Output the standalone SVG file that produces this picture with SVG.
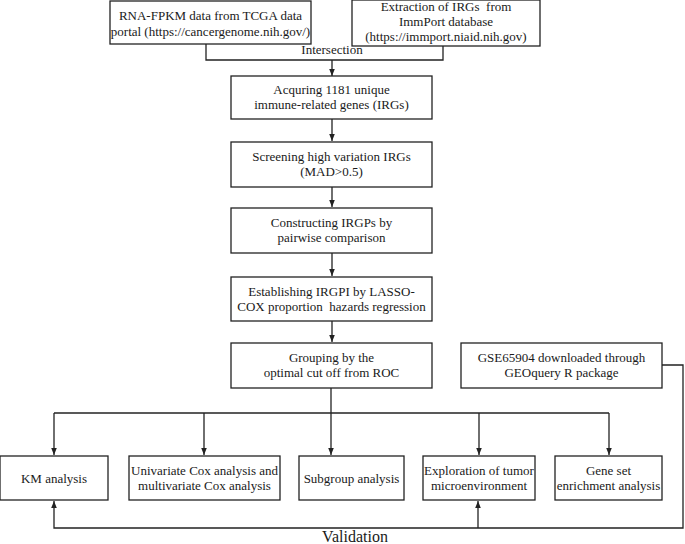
<svg xmlns="http://www.w3.org/2000/svg" width="685" height="544" viewBox="0 0 685 544">
<style>
.box{fill:#fff;stroke:#222;stroke-width:1.3}
.t{font-family:"Liberation Serif","Times New Roman",serif;font-size:13px;fill:#1a1a1a;text-anchor:middle;white-space:pre}
.c{fill:none;stroke:#222;stroke-width:1.3}
</style>
<defs>
<marker id="ah" viewBox="0 0 10 10" refX="10" refY="5" markerWidth="7" markerHeight="7" markerUnits="userSpaceOnUse" orient="auto">
<path d="M0,1 L10,5 L0,9 Z" fill="#222"/>
</marker>
</defs>
<rect width="685" height="544" fill="#fff"/>
<g id="connectors">
<path class="c" d="M206,44 V60 H443 V46"/>
<path class="c" d="M332,60 V76" marker-end="url(#ah)"/>
<path class="c" d="M332,119 V141" marker-end="url(#ah)"/>
<path class="c" d="M332,187 V207" marker-end="url(#ah)"/>
<path class="c" d="M332,253 V276" marker-end="url(#ah)"/>
<path class="c" d="M332,321 V342" marker-end="url(#ah)"/>
<path class="c" d="M331,388 V413"/>
<path class="c" d="M54,413 H609"/>
<path class="c" d="M54,413 V455" marker-end="url(#ah)"/>
<path class="c" d="M204,413 V455" marker-end="url(#ah)"/>
<path class="c" d="M331,413 V455" marker-end="url(#ah)"/>
<path class="c" d="M479,413 V455" marker-end="url(#ah)"/>
<path class="c" d="M609,413 V455" marker-end="url(#ah)"/>
<path class="c" d="M662,365 H683 V528 H54 V501" marker-end="url(#ah)"/>
<path class="c" d="M478,528 V501" marker-end="url(#ah)"/>
<text class="t" x="332" y="54">Intersection</text>
<text class="t" x="355" y="542" style="font-size:16px">Validation</text>
</g>
<g id="n_rna">
<rect class="box" x="110" y="1" width="201" height="43"/>
<text class="t" x="210.5" y="20">RNA-FPKM data from TCGA data</text>
<text class="t" x="210.5" y="36">portal (https://cancergenome.nih.gov/)</text>
</g>
<g id="n_immport">
<rect class="box" x="352" y="0" width="188" height="46"/>
<text class="t" x="446" y="11">Extraction of IRGs  from</text>
<text class="t" x="446" y="26">ImmPort database</text>
<text class="t" x="446" y="41">(https://immport.niaid.nih.gov)</text>
</g>
<g id="n_acq">
<rect class="box" x="231" y="76" width="201" height="43"/>
<text class="t" x="331.5" y="94">Acquring 1181 unique</text>
<text class="t" x="331.5" y="109">immune-related genes (IRGs)</text>
</g>
<g id="n_screen">
<rect class="box" x="231" y="142" width="201" height="45"/>
<text class="t" x="331.5" y="161">Screening high variation IRGs</text>
<text class="t" x="331.5" y="176">(MAD&gt;0.5)</text>
</g>
<g id="n_construct">
<rect class="box" x="231" y="208" width="201" height="45"/>
<text class="t" x="331.5" y="227">Constructing IRGPs by</text>
<text class="t" x="331.5" y="242">pairwise comparison</text>
</g>
<g id="n_establish">
<rect class="box" x="231" y="277" width="201" height="44"/>
<text class="t" x="331.5" y="296">Establishing IRGPI by LASSO-</text>
<text class="t" x="331.5" y="311">COX proportion  hazards regression</text>
</g>
<g id="n_group">
<rect class="box" x="231" y="343" width="201" height="45"/>
<text class="t" x="331.5" y="362">Grouping by the</text>
<text class="t" x="331.5" y="377">optimal cut off from ROC</text>
</g>
<g id="n_gse">
<rect class="box" x="461" y="343" width="201" height="45"/>
<text class="t" x="561.5" y="362">GSE65904 downloaded through</text>
<text class="t" x="561.5" y="377">GEOquery R package</text>
</g>
<g id="n_km">
<rect class="box" x="0" y="456" width="108" height="44"/>
<text class="t" x="54" y="483">KM analysis</text>
</g>
<g id="n_cox">
<rect class="box" x="129" y="456" width="151" height="44"/>
<text class="t" x="204.5" y="475">Univariate Cox analysis and</text>
<text class="t" x="204.5" y="490">multivariate Cox analysis</text>
</g>
<g id="n_subgroup">
<rect class="box" x="299" y="456" width="105" height="44"/>
<text class="t" x="351.5" y="483">Subgroup analysis</text>
</g>
<g id="n_tme">
<rect class="box" x="423" y="456" width="112" height="44"/>
<text class="t" x="479" y="475">Exploration of tumor</text>
<text class="t" x="479" y="490">microenvironment</text>
</g>
<g id="n_gsea">
<rect class="box" x="555" y="456" width="107" height="44"/>
<text class="t" x="608.5" y="475">Gene set</text>
<text class="t" x="608.5" y="490">enrichment analysis</text>
</g>
</svg>
